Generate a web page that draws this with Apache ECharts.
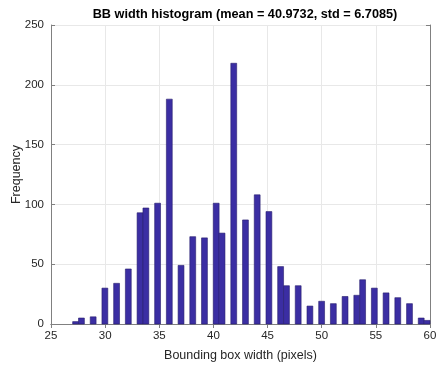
<!DOCTYPE html>
<html>
<head>
<meta charset="utf-8">
<script src="https://cdn.jsdelivr.net/npm/echarts@6/dist/echarts.min.js"></script>
<style>
  html, body { margin: 0; padding: 0; background: #fff; }
  #chart { width: 436px; height: 365px; }
</style>
</head>
<body>
<div id="chart"></div>
<script>
// measured box widths (integer pixels) and how often each occurred
const widths = [27, 28, 29, 30, 31, 32, 33, 34, 35, 36, 37, 38, 39, 40, 41, 42, 43,
  44, 45, 46, 47, 48, 49, 50, 51, 52, 53, 54, 55, 56, 57, 58, 59, 60];
const counts = [2, 5, 6, 30, 34, 46, 93, 97, 101, 188, 49, 73, 72, 101, 76, 218, 87,
  108, 94, 48, 32, 32, 15, 19, 17, 23, 24, 37, 30, 26, 22, 17, 5, 3];
const xTicks = [25, 30, 35, 40, 45, 50, 55, 60];
const yTicks = [0, 50, 100, 150, 200, 250];

// histogram bins over the data range, like matlab's auto binning
const binLo = 27, binHi = 60, numBins = 61;
const binW = (binHi - binLo) / numBins;
const bins = widths.map((w, i) => {
  const k = Math.min(numBins - 1, Math.floor((w - binLo) / binW));
  return [binLo + k * binW, binLo + (k + 1) * binW, counts[i]];
});

const font = '"Liberation Sans", Arial, sans-serif';
const gray = '#808080';

const chart = echarts.init(document.getElementById('chart'));
chart.setOption({
  animation: false,
  title: {
    text: 'BB width histogram (mean = 40.9732, std = 6.7085)',
    left: 240, top: 3, textAlign: 'center',
    textStyle: { fontFamily: font, fontSize: 12.7, fontWeight: 'bold', color: '#000' }
  },
  grid: { left: 51, right: 6, top: 25, bottom: 41, outerBoundsMode: 'none', containLabel: false },
  xAxis: [{
    type: 'value', min: 25, max: 60, interval: 5,
    name: 'Bounding box width (pixels)', nameLocation: 'middle', nameGap: 25,
    nameMoveOverlap: false,
    nameTextStyle: { fontFamily: font, fontSize: 12.5, color: '#262626' },
    axisLine: { lineStyle: { color: gray } },
    axisTick: { inside: true, length: 4, lineStyle: { color: gray } },
    axisLabel: { fontFamily: font, fontSize: 11.5, color: '#262626', margin: 6,
      formatter: v => xTicks.includes(v) ? String(v) : '' },
    splitLine: { show: true, lineStyle: { color: '#e8e8e8' } }
  }, {
    type: 'value', min: 25, max: 60, interval: 5, position: 'top',
    axisLine: { lineStyle: { color: gray } },
    axisTick: { inside: true, length: 4, lineStyle: { color: gray } },
    axisLabel: { show: false }, splitLine: { show: false }
  }],
  yAxis: [{
    type: 'value', min: 0, max: 250, interval: 50,
    name: 'Frequency', nameLocation: 'middle', nameGap: 28,
    nameMoveOverlap: false,
    nameTextStyle: { fontFamily: font, fontSize: 12.5, color: '#262626' },
    axisLine: { show: true, lineStyle: { color: gray } },
    axisTick: { show: true, inside: true, length: 4, lineStyle: { color: gray } },
    axisLabel: { fontFamily: font, fontSize: 11.5, color: '#262626', margin: 7,
      formatter: v => yTicks.includes(v) ? String(v) : '' },
    splitLine: { show: true, lineStyle: { color: '#e8e8e8' } }
  }, {
    type: 'value', min: 0, max: 250, interval: 50, position: 'right',
    axisLine: { show: true, lineStyle: { color: gray } },
    axisTick: { show: true, inside: true, length: 4, lineStyle: { color: gray } },
    axisLabel: { show: false }, splitLine: { show: false }
  }],
  series: [{
    type: 'custom',
    data: bins,
    encode: { x: [0, 1], y: 2 },
    renderItem: (params, api) => {
      const p0 = api.coord([api.value(0), api.value(2)]);
      const p1 = api.coord([api.value(1), 0]);
      return {
        type: 'rect',
        shape: { x: p0[0], y: p0[1], width: p1[0] - p0[0], height: p1[1] - p0[1] },
        style: { fill: '#3b2ea3', stroke: '#261c6b', lineWidth: 0.6 }
      };
    }
  }]
});
</script>
</body>
</html>
